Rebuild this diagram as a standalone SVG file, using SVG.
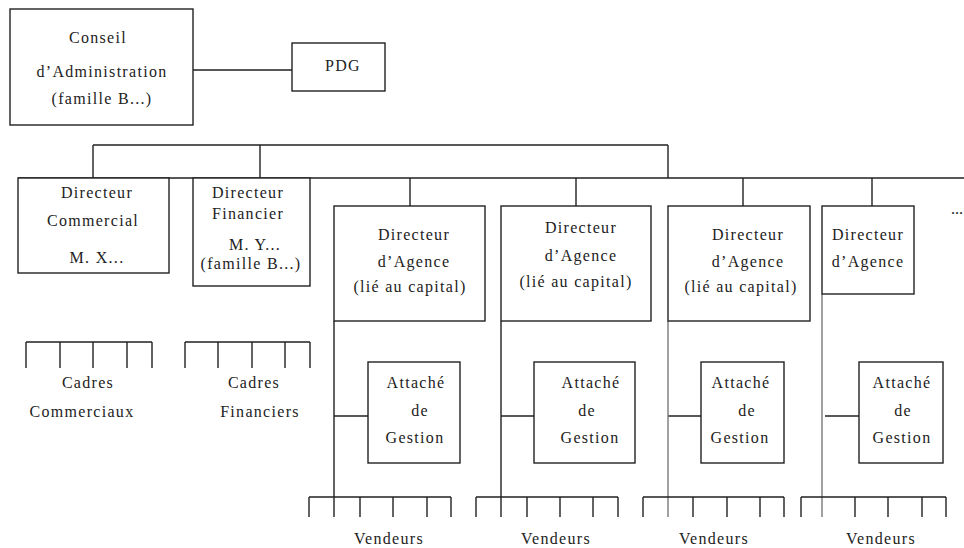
<svg xmlns="http://www.w3.org/2000/svg" width="964" height="548" viewBox="0 0 964 548">
<style>
.b{fill:#fff;stroke:#222;stroke-width:1.4}
.l{fill:none;stroke:#222;stroke-width:1.4}
.g{fill:none;stroke:#7a7a7a;stroke-width:1.4}
text{font-family:"Liberation Serif","Times New Roman",serif;font-size:16px;fill:#222;text-anchor:middle;letter-spacing:1.3px}
</style>
<rect width="964" height="548" fill="#fff"/>
<g id="connectors">
<path class="l" d="M193 70H292M93 145H668M93 145V178M260 145V178M668 145V178M18 178H964M410 178V206M576 178V206M743 178V206M872 178V206"/>
<path class="l" d="M334 321V517M501 321V517M334 416H368M501 416H534M668 416H701M825 416H859"/>
<path class="g" d="M668 321V517M822 294V517"/>
<path class="l" d="M26 342H152M26 342V368M60 342V368M93 342V368M127 342V368M152 342V368"/>
<path class="l" d="M185 342H310M185 342V368M218 342V368M252 342V368M285 342V368M310 342V368"/>
<path class="l" d="M309 497H451M309 497V517M360 497V517M393 497V517M427 497V517M451 497V517"/>
<path class="l" d="M476 497H618M476 497V517M527 497V517M560 497V517M593 497V517M618 497V517"/>
<path class="l" d="M643 497H784M643 497V517M693 497V517M727 497V517M760 497V517M784 497V517"/>
<path class="l" d="M801 497H946M801 497V517M855 497V517M888 497V517M922 497V517M946 497V517"/>
</g>
<g id="conseil"><rect class="b" x="10" y="9" width="183" height="116"/>
<text x="98" y="43">Conseil</text><text x="102" y="77">d’Administration</text><text x="102" y="104">(famille B...)</text></g>
<g id="pdg"><rect class="b" x="292" y="43" width="93" height="48"/><text x="343" y="71">PDG</text></g>
<g id="dir-commercial"><rect class="b" x="18" y="178" width="151" height="95"/>
<text x="97" y="198">Directeur</text><text x="93" y="226">Commercial</text><text x="97" y="263">M. X...</text></g>
<g id="dir-financier"><rect class="b" x="193" y="178" width="117" height="108"/>
<text x="248" y="198">Directeur</text><text x="248" y="219">Financier</text><text x="255" y="250">M. Y...</text><text x="251" y="269">(famille B...)</text></g>
<g id="agence1"><rect class="b" x="334" y="206" width="151" height="115"/>
<text x="414" y="240">Directeur</text><text x="414" y="267">d’Agence</text><text x="410" y="292">(lié au capital)</text></g>
<g id="agence2"><rect class="b" x="501" y="206" width="150" height="115"/>
<text x="581" y="233">Directeur</text><text x="581" y="261">d’Agence</text><text x="576" y="287">(lié au capital)</text></g>
<g id="agence3"><rect class="b" x="668" y="206" width="142" height="115"/>
<text x="748" y="240">Directeur</text><text x="748" y="267">d’Agence</text><text x="741" y="292">(lié au capital)</text></g>
<g id="agence4"><rect class="b" x="822" y="206" width="92" height="88"/>
<text x="868" y="240">Directeur</text><text x="868" y="267">d’Agence</text></g>
<g id="more"><text x="951" y="214" style="text-anchor:start;letter-spacing:0">...</text></g>
<g id="cadres-com"><text x="88" y="388">Cadres</text><text x="82" y="417">Commerciaux</text></g>
<g id="cadres-fin"><text x="254" y="388">Cadres</text><text x="260" y="417">Financiers</text></g>
<g id="attache1"><rect class="b" x="368" y="362" width="92" height="101"/>
<text x="416" y="388">Attaché</text><text x="420" y="416">de</text><text x="415" y="443">Gestion</text></g>
<g id="attache2"><rect class="b" x="534" y="362" width="101" height="101"/>
<text x="591" y="388">Attaché</text><text x="587" y="416">de</text><text x="590" y="443">Gestion</text></g>
<g id="attache3"><rect class="b" x="701" y="362" width="83" height="101"/>
<text x="741" y="388">Attaché</text><text x="747" y="416">de</text><text x="740" y="443">Gestion</text></g>
<g id="attache4"><rect class="b" x="859" y="362" width="84" height="101"/>
<text x="902" y="388">Attaché</text><text x="903" y="416">de</text><text x="902" y="443">Gestion</text></g>
<g id="vendeurs"><text x="389" y="544">Vendeurs</text><text x="556" y="544">Vendeurs</text><text x="714" y="544">Vendeurs</text><text x="881" y="544">Vendeurs</text></g>
</svg>
